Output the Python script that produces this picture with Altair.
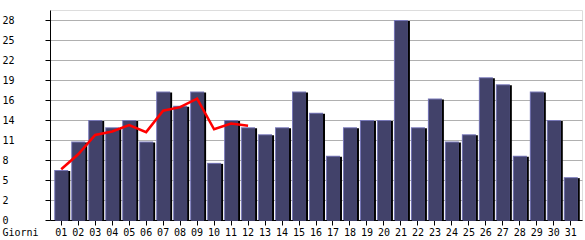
import altair as alt
import pandas as pd

days = [f"{i:02d}" for i in range(1, 32)]
visits = [7, 11, 14, 13, 14, 11, 18, 16, 18, 8, 14, 13, 12, 13, 18, 15, 9, 13, 14, 14,
          28, 13, 17, 11, 12, 20, 19, 9, 18, 14, 6]
trend_days = days[:12]
trend = [7.1, 9.2, 11.9, 12.4, 13.3, 12.3, 15.3, 15.8, 17.0, 12.7, 13.5, 13.2]
y_ticks = [0, 2.8, 5.6, 8.4, 11.2, 14, 16.8, 19.6, 22.4, 25.2, 28]

bars = pd.DataFrame({"day": days, "v": visits})
line = pd.DataFrame({"day": trend_days, "v": trend})

FONT = "DejaVu Sans Mono"
xs = alt.X("day:O", scale=alt.Scale(domain=days, paddingInner=0, paddingOuter=0.16),
           axis=alt.Axis(title="Giorni", labelAngle=0, labelFont=FONT, labelFontSize=10,
                         labelColor="black", labelBaseline="alphabetic", labelPadding=10.5,
                         tickColor="black", tickSize=5, domainColor="black", grid=False,
                         titleFont=FONT, titleFontSize=10, titleFontWeight="normal",
                         titleColor="black", titleX=-48, titleY=15.5, titleAlign="left",
                         titleBaseline="alphabetic", titleAnchor="start"))
ys = alt.Y("v:Q", scale=alt.Scale(domain=[0, 29.4], nice=False, zero=True),
           axis=alt.Axis(title=None, values=y_ticks, labelExpr="floor(datum.value)",
                         labelFont=FONT, labelFontSize=10, labelColor="black",
                         labelAlign="left", labelPadding=43, labelBaseline="middle",
                         tickColor="black", tickSize=5, domainColor="black",
                         grid=True, gridColor="#b0b0b0", gridWidth=1))

base = alt.Chart(bars)
shadow = base.mark_bar(width=14, xOffset=2, yOffset=1, color="black").encode(x=xs, y=ys)
hl = base.mark_bar(width=14, xOffset=0, color="#7878b8").encode(x=xs, y=ys)
fill = base.mark_bar(width=13, xOffset=0.5, yOffset=1, color="#42426a").encode(x=xs, y=ys)
red = alt.Chart(line).mark_line(color="#ff0000", strokeWidth=2.5).encode(x=xs, y=ys)

chart = alt.layer(shadow, hl, fill, red).properties(
    width=532, height=210,
    autosize=alt.AutoSizeParams(type="none"),
    padding={"left": 50, "top": 10, "right": 3, "bottom": 20},
).configure_view(stroke="black", strokeWidth=1).configure(background="white")

chart.save("out.html", embed_options={"renderer": "svg", "actions": False})
